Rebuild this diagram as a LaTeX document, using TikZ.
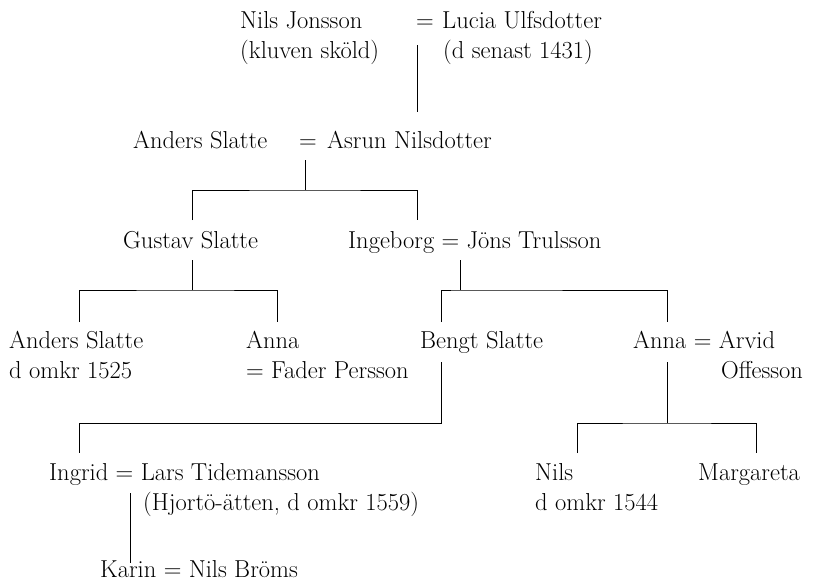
\documentclass[tikz,border=0pt]{standalone}
\usetikzlibrary{positioning,calc}
\tikzset{
    person/.style={anchor=base west, inner sep=0pt, font=\fontsize{24.5}{30}\selectfont},
    equals/.style={person, anchor=base},
    tie/.style={line width=1pt}
}

\begin{document}
\begin{tikzpicture}[x=1pt,y=-1pt]
    \useasboundingbox (0,0) rectangle (815,582);

    % first generation
    \node[person] (nils) at (240,28) {Nils Jonsson};
    \node[equals] (eq1) at (425,28) {=};
    \node[person] (lucia) at (442,28) {Lucia Ulfsdotter};
    \node[person] (nilsb) at (240,58) {(kluven sköld)};
    \node[person] (luciab) at (443,58) {(d senast 1431)};

    % second generation
    \node[person] (anders) at (133,148) {Anders Slatte};
    \node[equals] (eq2) at (308,148) {=};
    \node[person] (asrun) at (327,148) {Asrun Nilsdotter};

    % third generation
    \node[person] (gustav) at (123,248) {Gustav Slatte};
    \node[person] (ingeborg) at (348,248) {Ingeborg = Jöns Trulsson};

    % fourth generation
    \node[person] (anders2) at (9,348) {Anders Slatte};
    \node[person] (anders2b) at (9,378) {d omkr 1525};
    \node[person] (anna) at (246,348) {Anna};
    \node[person] (annab) at (246,378) {= Fader Persson};
    \node[person] (bengt) at (420,348) {Bengt Slatte};
    \node[person] (anna2) at (633,348) {Anna = Arvid};
    \node[person] (anna2b) at (721,378) {Offesson};

    % fifth generation
    \node[person] (ingrid) at (49,480) {Ingrid = Lars Tidemansson};
    \node[person] (ingridb) at (143,510) {(Hjortö-ätten, d omkr 1559)};
    \node[person] (nils2) at (535,480) {Nils};
    \node[person] (nils2b) at (535,510) {d omkr 1544};
    \node[person] (margareta) at (698,480) {Margareta};

    % sixth generation
    \node[person] (karin) at (100,577) {Karin = Nils Bröms};

    % junctions
    \coordinate (d1) at (417,45);
    \coordinate (u1) at (417,112);
    \coordinate (d2) at (305,160);
    \coordinate (f2) at (305,190);
    \coordinate (l2) at (192,220);
    \coordinate (r2) at (417,220);
    \coordinate (d3) at (192,260);
    \coordinate (f3) at (192,290);
    \coordinate (l3) at (79,322);
    \coordinate (r3) at (277,322);
    \coordinate (d4) at (460,260);
    \coordinate (f4) at (460,290);
    \coordinate (l4) at (441,322);
    \coordinate (r4) at (667,322);
    \coordinate (d5) at (441,362);
    \coordinate (f5) at (441,423);
    \coordinate (l5) at (79,453);
    \coordinate (d6) at (667,362);
    \coordinate (f6) at (667,423);
    \coordinate (l6) at (577,453);
    \coordinate (r6) at (756,453);
    \coordinate (d7) at (130,493);
    \coordinate (u7) at (130,563);

    \draw[tie]
    (d1) -- (u1)
    (d2) -- (f2)
    (l2) |- (f2) -| (r2)
    (d3) -- (f3)
    (l3) |- (f3) -| (r3)
    (d4) -- (f4)
    (l4) |- (f4) -| (r4)
    (d5) -- (f5) -| (l5)
    (d6) -- (f6)
    (l6) |- (f6) -| (r6)
    (d7) -- (u7);
\end{tikzpicture}
\end{document}
